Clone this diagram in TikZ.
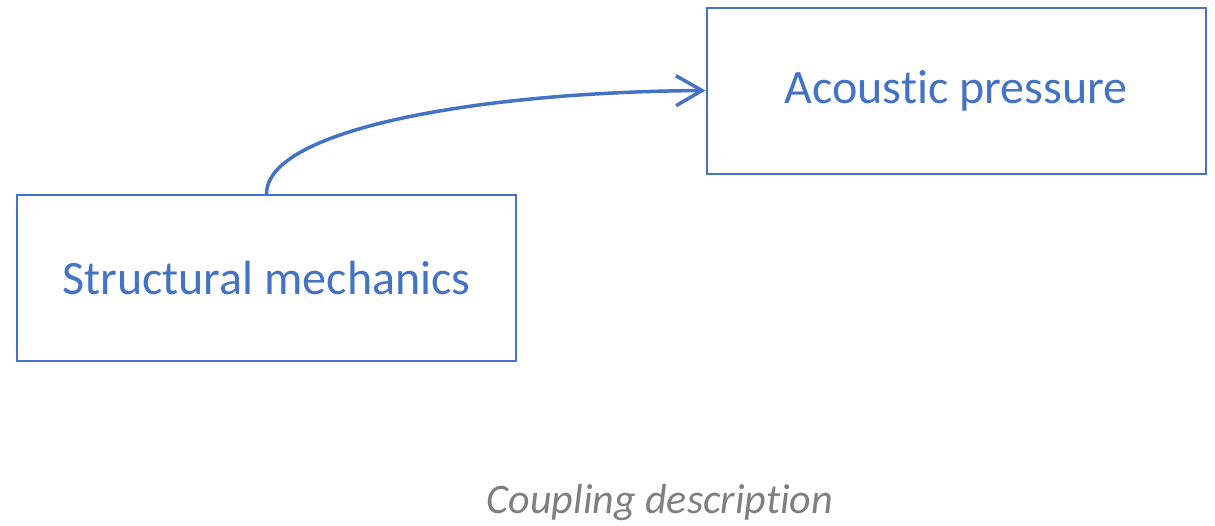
\documentclass[tikz,border=0pt]{standalone}
\usepackage{fontspec}
\setmainfont{Carlito}[Ligatures=NoCommon]
\usetikzlibrary{arrows.meta}
\definecolor{boxblue}{HTML}{4472C4}
\definecolor{capgray}{HTML}{7F7F7F}
\tikzset{
  physbox/.style={draw=boxblue, line width=2pt, minimum width=499pt, minimum height=166pt,
    text=boxblue, font=\fontsize{48}{58}\selectfont, inner sep=0pt},
  coupling/.style={draw=boxblue, line width=3.5pt,
    -{Straight Barb[length=26pt, width=30pt, line width=3.5pt]}}
}
\begin{document}
\begin{tikzpicture}[x=1pt, y=-1pt]
  \useasboundingbox (0,0) rectangle (1215,525);
  \node[physbox] (mech) at (266.5,278) {Structural mechanics};
  \node[physbox] (acou) at (956,90.5) {Acoustic pressure};
  % coupling arrow leaves the top of the mechanics box and bends into the acoustics box
  \draw[coupling] (mech.north) .. controls ++(0,-65) and (480,92) .. (acou.west);
  \node[text=capgray, font=\fontsize{42}{50}\selectfont\itshape] (cap) at (660,503) {Coupling description};
\end{tikzpicture}
\end{document}
